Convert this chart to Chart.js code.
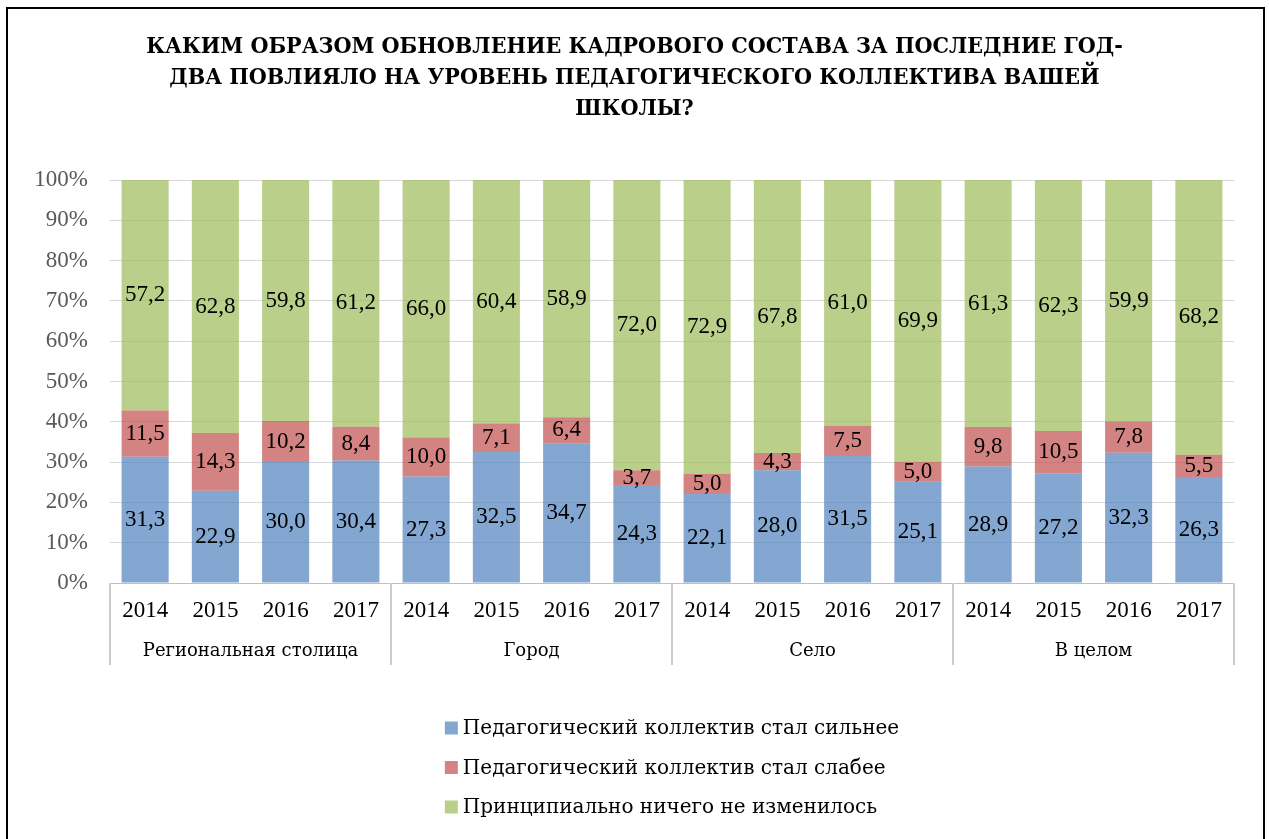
<!DOCTYPE html>
<html><head><meta charset="utf-8">
<script src="https://cdn.jsdelivr.net/npm/chart.js@4.4.0/dist/chart.umd.min.js"></script>
<style>
html,body{margin:0;padding:0;background:#fff;overflow:hidden;}
#wrap{position:relative;width:1269px;height:839px;}
#frame{position:absolute;left:6px;top:7px;width:1255px;height:1000px;border:2px solid #000;pointer-events:none;}
canvas{position:absolute;left:0;top:0;}
</style></head><body>
<div id="wrap"><canvas id="c" width="1269" height="839"></canvas><div id="frame"></div></div>
<script>
const titleLines = [
  'КАКИМ ОБРАЗОМ ОБНОВЛЕНИЕ КАДРОВОГО СОСТАВА ЗА ПОСЛЕДНИЕ ГОД-',
  'ДВА ПОВЛИЯЛО НА УРОВЕНЬ ПЕДАГОГИЧЕСКОГО КОЛЛЕКТИВА ВАШЕЙ',
  'ШКОЛЫ?'
];
const groups = ['Региональная столица', 'Город', 'Село', 'В целом'];
const years = ['2014', '2015', '2016', '2017'];
const seriesNames = [
  'Педагогический коллектив стал сильнее',
  'Педагогический коллектив стал слабее',
  'Принципиально ничего не изменилось'
];
const stronger  = [31.3, 22.9, 30.0, 30.4, 27.3, 32.5, 34.7, 24.3, 22.1, 28.0, 31.5, 25.1, 28.9, 27.2, 32.3, 26.3];
const weaker    = [11.5, 14.3, 10.2, 8.4, 10.0, 7.1, 6.4, 3.7, 5.0, 4.3, 7.5, 5.0, 9.8, 10.5, 7.8, 5.5];
const unchanged = [57.2, 62.8, 59.8, 61.2, 66.0, 60.4, 58.9, 72.0, 72.9, 67.8, 61.0, 69.9, 61.3, 62.3, 59.9, 68.2];
const seriesColors = ['rgba(79,129,189,0.7)', 'rgba(192,80,77,0.7)', 'rgba(155,187,89,0.7)'];

const categories = [];
groups.forEach(() => years.forEach(y => categories.push(y)));
const rawSeries = [stronger, weaker, unchanged];
const totals = stronger.map((v, i) => stronger[i] + weaker[i] + unchanged[i]);
const share = arr => arr.map((v, i) => v / totals[i] * 100);

const NUM_FONT = '"Liberation Serif", serif';
const TXT_FONT = '"DejaVu Serif", serif';
const TITLE_FONT = '"DejaVu Serif Condensed", "DejaVu Serif", serif';

const valuePlugin = {
  id: 'vals',
  afterDatasetsDraw(chart) {
    const ctx = chart.ctx;
    ctx.save();
    ctx.font = '23px ' + NUM_FONT;
    ctx.fillStyle = '#000';
    ctx.textAlign = 'center';
    ctx.textBaseline = 'middle';
    chart.data.datasets.forEach((ds, i) => {
      chart.getDatasetMeta(i).data.forEach((el, j) => {
        const v = ds.raw[j];
        ctx.fillText(v.toFixed(1).replace('.', ','), el.x, (el.y + el.base) / 2);
      });
    });
    ctx.restore();
  }
};

const dividerPlugin = {
  id: 'dividers',
  afterDraw(chart) {
    const ctx = chart.ctx, xs = chart.scales.x, ca = chart.chartArea;
    ctx.save();
    ctx.strokeStyle = '#cccccc';
    ctx.lineWidth = 2;
    for (let g = 0; g <= groups.length; g++) {
      const idx = g * years.length;
      let x;
      if (g === 0) x = ca.left;
      else if (g === groups.length) x = ca.right;
      else x = (xs.getPixelForValue(idx - 1) + xs.getPixelForValue(idx)) / 2;
      ctx.beginPath();
      ctx.moveTo(x, ca.bottom);
      ctx.lineTo(x, ca.bottom + 82);
      ctx.stroke();
    }
    ctx.restore();
  }
};

const legendPlugin = {
  id: 'vlegend',
  afterDraw(chart) {
    const ctx = chart.ctx, ca = chart.chartArea;
    ctx.save();
    ctx.font = '20px ' + TXT_FONT;
    const box = 13, gap = 5;
    const maxW = Math.max(...chart.data.datasets.map(d => ctx.measureText(d.label).width));
    const total = box + gap + maxW;
    const left = (ca.left + ca.right) / 2 - total / 2;
    ctx.textBaseline = 'middle';
    ctx.textAlign = 'left';
    chart.data.datasets.forEach((d, i) => {
      const y = ca.bottom + 145 + i * 39.5;
      ctx.fillStyle = d.backgroundColor;
      ctx.fillRect(left, y - box / 2, box, box);
      ctx.fillStyle = '#000';
      ctx.fillText(d.label, left + box + gap, y + 1);
    });
    ctx.restore();
  }
};

new Chart(document.getElementById('c'), {
  type: 'bar',
  data: {
    labels: categories,
    datasets: rawSeries.map((arr, i) => ({
      label: seriesNames[i],
      data: share(arr),
      raw: arr,
      backgroundColor: seriesColors[i],
      borderWidth: 0,
      barPercentage: 0.67,
      categoryPercentage: 1.0
    }))
  },
  options: {
    responsive: false,
    animation: false,
    devicePixelRatio: 1,
    layout: { padding: { top: 0, left: 0, right: 0, bottom: 176 } },
    plugins: {
      legend: { display: false },
      tooltip: { enabled: false },
      title: {
        display: true,
        text: titleLines,
        color: '#000',
        font: { family: TITLE_FONT, size: 23, weight: 'bold', lineHeight: 31 / 23 },
        padding: { top: 32, bottom: 55 }
      }
    },
    scales: {
      x: {
        stacked: true,
        weight: 0,
        grid: { display: false, drawTicks: false },
        border: { display: true, color: '#bfbfbf', width: 1 },
        ticks: { color: '#000', font: { family: NUM_FONT, size: 23, lineHeight: 1.2 }, padding: 14.2, maxRotation: 0, autoSkip: false }
      },
      x2: {
        type: 'category',
        labels: groups,
        position: 'bottom',
        offset: true,
        weight: 1,
        grid: { display: false, drawTicks: false },
        border: { display: false },
        ticks: { color: '#000', font: { family: TXT_FONT, size: 18, lineHeight: 24 / 18 }, padding: 0, maxRotation: 0, autoSkip: false }
      },
      y: {
        stacked: true,
        min: 0,
        max: 100,
        grid: { color: '#d9d9d9', lineWidth: 1, drawTicks: false },
        border: { display: false },
        ticks: { stepSize: 10, color: '#595959', padding: 22, font: { family: NUM_FONT, size: 23 }, callback: v => v + '%' },
        afterFit(scale) { scale.width = 110; }
      },
      yRightSpace: {
        type: 'linear',
        position: 'right',
        min: 0,
        max: 100,
        grid: { display: false, drawTicks: false },
        border: { display: false },
        ticks: { display: false },
        afterFit(scale) { scale.width = 35; }
      }
    }
  },
  plugins: [valuePlugin, dividerPlugin, legendPlugin]
});
</script>
</body></html>
